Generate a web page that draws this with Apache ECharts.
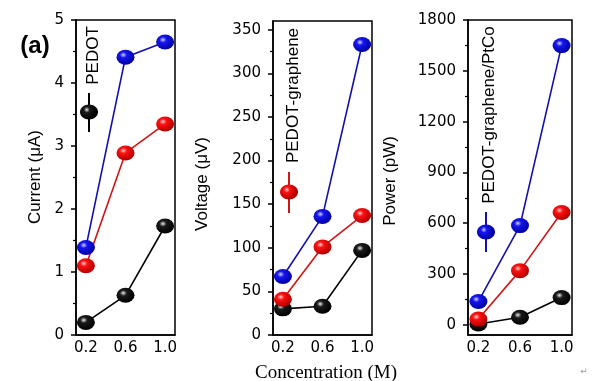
<!DOCTYPE html>
<html>
<head>
<meta charset="utf-8">
<script src="https://cdn.jsdelivr.net/npm/echarts@6/dist/echarts.min.js"></script>
<style>html,body{margin:0;padding:0;background:#fff}#c{width:600px;height:381px}</style>
</head>
<body>
<div id="c"></div>
<script>
// ---- data ----
const conc = [0.2, 0.6, 1.0];
const xTicks = [0.2, 0.6, 1.0];

const currentBlack = [0.2, 0.63, 1.73];
const currentRed = [1.1, 2.89, 3.35];
const currentBlue = [1.39, 4.41, 4.65];

const voltageBlack = [30, 33, 97];
const voltageRed = [41, 101, 137];
const voltageBlue = [67, 136, 333];

const powerBlack = [5, 45, 161];
const powerRed = [34, 320, 663];
const powerBlue = [138, 586, 1649];

const yTicks1 = [0, 1, 2, 3, 4, 5];
const yMinor1 = [0.5, 1.5, 2.5, 3.5, 4.5];
const yTicks2 = [0, 50, 100, 150, 200, 250, 300, 350];
const yMinor2 = [25, 75, 125, 175, 225, 275, 325];
const yTicks3 = [0, 300, 600, 900, 1200, 1500, 1800];
const yMinor3 = [150, 450, 750, 1050, 1350, 1650];

const yTitles = ['Current (\u03bcA)', 'Voltage (\u03bcV)', 'Power (pW)'];
const legendNames = ['PEDOT', 'PEDOT-graphene', 'PEDOT-graphene/PtCo'];
const xTitle = 'Concentration (M)';

// ---- layout ----
const grids = [
  {left: 76, top: 20, width: 99, height: 315},
  {left: 273, top: 21, width: 99, height: 314},
  {left: 468, top: 20, width: 104, height: 315}
];
const yRanges = [[0, 5], [0, 360], [-60, 1800]];
const yMajors = [yTicks1, yTicks2, yTicks3];
const yMinors = [yMinor1, yMinor2, yMinor3];
const panelData = [
  [currentBlack, currentRed, currentBlue],
  [voltageBlack, voltageRed, voltageBlue],
  [powerBlack, powerRed, powerBlue]
];

const FONT = 'DejaVu Sans';
function sphere(light, base, dark) {
  return {type: 'radial', x: 0.38, y: 0.35, r: 0.65,
    colorStops: [{offset: 0, color: light}, {offset: 0.3, color: base}, {offset: 1, color: dark}]};
}
const styles = [
  {line: '#000000', fill: sphere('#e8e8e8', '#1a1a1a', '#000000')},
  {line: '#d01515', fill: sphere('#ffd0d0', '#ff1010', '#b00000')},
  {line: '#1010b0', fill: sphere('#d0d0ff', '#1515f0', '#0000a0')}
];

const xAxes = [], yAxes = [], series = [];
grids.forEach((g, p) => {
  xAxes.push({
    type: 'value', gridIndex: p, min: 0.1, max: 1.1,
    axisLine: {show: true, onZero: false, lineStyle: {color: '#000', width: 1.5}},
    axisTick: {show: false},
    splitLine: {show: false},
    axisLabel: {customValues: xTicks, color: '#000', fontFamily: FONT, fontSize: 15, margin: 6,
      formatter: v => v.toFixed(1)}
  });
  yAxes.push({
    type: 'value', gridIndex: p, min: yRanges[p][0], max: yRanges[p][1],
    axisLine: {show: true, onZero: false, lineStyle: {color: '#000', width: 1.5}},
    axisTick: {show: true, customValues: yMajors[p], length: 5, lineStyle: {color: '#000', width: 1.5}},
    splitLine: {show: false},
    axisLabel: {customValues: yMajors[p], color: '#000', fontFamily: FONT, fontSize: 15, margin: 12,
      formatter: v => String(v)}
  });
});
grids.forEach((g, p) => {
  yAxes.push({
    type: 'value', gridIndex: p, min: yRanges[p][0], max: yRanges[p][1], position: 'left',
    axisLine: {show: false, onZero: false},
    axisTick: {show: true, customValues: yMinors[p], length: 3, lineStyle: {color: '#000', width: 1.2}},
    splitLine: {show: false},
    axisLabel: {show: false}
  });
});
panelData.forEach((arrs, p) => {
  arrs.forEach((arr, k) => {
    series.push({
      type: 'line', xAxisIndex: p, yAxisIndex: p, clip: false,
      data: conc.map((x, i) => [x, arr[i]]),
      lineStyle: {color: styles[k].line, width: 1.6},
      symbol: 'circle', symbolSize: [18, 15],
      itemStyle: {color: styles[k].fill, borderWidth: 0},
      z: 2 + k
    });
  });
});

const graphic = [];
// axis titles
const titlePos = [[35, 177], [202, 184], [390, 181]];
titlePos.forEach((pt, p) => {
  graphic.push({type: 'text', x: pt[0], y: pt[1], rotation: Math.PI / 2,
    style: {text: yTitles[p], fill: '#000', font: '17px "Liberation Sans", Arial, sans-serif',
      align: 'center', verticalAlign: 'middle'}});
});
// legends
const legendPos = [
  {mx: 89, my: 112, l1: 93, l2: 132, tx: 93, ty: 55.5},
  {mx: 289, my: 192, l1: 172, l2: 213, tx: 293, ty: 95.5},
  {mx: 486, my: 232, l1: 212, l2: 252, tx: 489, ty: 115}
];
legendPos.forEach((lp, p) => {
  graphic.push({type: 'line', shape: {x1: lp.mx, y1: lp.l1, x2: lp.mx, y2: lp.l2},
    style: {stroke: styles[p].line, lineWidth: 2}});
  graphic.push({type: 'ellipse', shape: {cx: lp.mx, cy: lp.my, rx: 9, ry: 7.5},
    style: {fill: styles[p].fill}});
  graphic.push({type: 'text', x: lp.tx, y: lp.ty, rotation: Math.PI / 2,
    style: {text: legendNames[p], fill: '#000', font: '17px "Liberation Sans", Arial, sans-serif',
      align: 'center', verticalAlign: 'middle'}});
});
graphic.push({type: 'text', x: 35, y: 46,
  style: {text: '(a)', fill: '#000', font: 'bold 24px "Liberation Sans", Arial, sans-serif',
    align: 'center', verticalAlign: 'middle'}});
graphic.push({type: 'text', x: 326, y: 373,
  style: {text: xTitle, fill: '#000', font: '19px "Liberation Serif", "Times New Roman", serif',
    align: 'center', verticalAlign: 'middle'}});
graphic.push({type: 'text', x: 584, y: 372,
  style: {text: '\u21b5', fill: '#999', font: '9px "DejaVu Sans", sans-serif',
    align: 'center', verticalAlign: 'middle'}});

const chart = echarts.init(document.getElementById('c'), null, {renderer: 'canvas'});
chart.setOption({
  animation: false,
  backgroundColor: '#fff',
  grid: grids.map(g => Object.assign({show: true, borderColor: '#000', borderWidth: 1.5,
    backgroundColor: 'transparent', containLabel: false}, g)),
  xAxis: xAxes,
  yAxis: yAxes,
  series: series,
  graphic: graphic
});
</script>
</body>
</html>
